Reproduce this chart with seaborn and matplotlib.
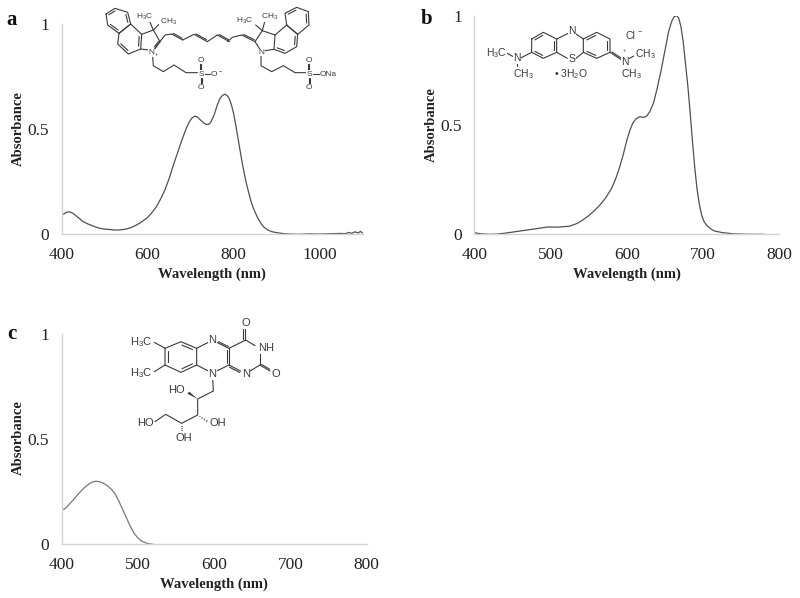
import numpy as np
import pandas as pd
import seaborn as sns
import matplotlib
matplotlib.use("Agg")
import matplotlib.pyplot as plt

W, H = 800, 598

# ======| Spectra |======

wave_a = [400, 405, 410, 414, 418, 422, 426, 430, 435, 440, 450, 460, 470, 480, 490, 500, 510, 520, 530, 540,
          550, 560, 570, 580, 590, 600, 610, 620, 630, 640, 650, 660, 670, 680, 690, 697, 703, 710, 716, 722,
          730, 736, 741, 746, 751, 756, 762, 768, 774, 780, 785, 790, 795, 800, 805, 810, 815, 820, 825, 830,
          835, 840, 845, 850, 855, 860, 865, 870, 880, 890, 900, 920, 950, 980, 1000, 1030, 1050, 1060, 1068,
          1075, 1082, 1090, 1095, 1100]
abs_a = [0.092, 0.097, 0.103, 0.106, 0.107, 0.104, 0.1, 0.094, 0.085, 0.077, 0.06, 0.05, 0.042, 0.034, 0.028,
         0.025, 0.023, 0.021, 0.02, 0.022, 0.025, 0.031, 0.04, 0.051, 0.065, 0.08, 0.103, 0.13, 0.167, 0.21,
         0.265, 0.33, 0.39, 0.45, 0.505, 0.535, 0.553, 0.562, 0.558, 0.545, 0.53, 0.523, 0.522, 0.53, 0.55,
         0.575, 0.615, 0.645, 0.66, 0.666, 0.66, 0.645, 0.615, 0.575, 0.52, 0.46, 0.4, 0.34, 0.288, 0.24, 0.2,
         0.16, 0.13, 0.105, 0.083, 0.065, 0.048, 0.035, 0.02, 0.012, 0.008, 0.002, 0.0, 0.002, 0.001, 0.003,
         0.004, 0.003, 0.009, 0.004, 0.012, 0.006, 0.014, 0.006]

wave_b = [400, 405, 410, 420, 430, 440, 450, 460, 470, 480, 495, 510, 525, 535, 542, 550, 558, 565, 572, 580,
          585, 590, 595, 600, 604, 608, 612, 617, 622, 626, 630, 635, 640, 645, 650, 655, 659, 662, 665, 668,
          671, 674, 677, 680, 683, 686, 689, 692, 695, 698, 701, 705, 710, 715, 725, 740, 760, 780]
abs_b = [0.008, 0.004, 0.002, 0.0, 0.001, 0.005, 0.01, 0.015, 0.02, 0.025, 0.033, 0.033, 0.037, 0.05, 0.065,
         0.085, 0.11, 0.135, 0.165, 0.21, 0.25, 0.3, 0.36, 0.43, 0.475, 0.51, 0.528, 0.538, 0.535, 0.54, 0.56,
         0.6, 0.67, 0.75, 0.84, 0.93, 0.975, 0.995, 1.0, 0.99, 0.95, 0.88, 0.78, 0.68, 0.56, 0.43, 0.31, 0.21,
         0.14, 0.09, 0.06, 0.04, 0.025, 0.015, 0.008, 0.002, 0.0, 0.0]

wave_c = [400, 403, 407, 411, 415, 420, 425, 430, 435, 440, 445, 450, 455, 460, 465, 470, 475, 480, 485, 490,
          495, 500, 505, 510, 515, 520]
abs_c = [0.165, 0.167, 0.178, 0.195, 0.21, 0.232, 0.252, 0.27, 0.285, 0.296, 0.3, 0.297, 0.29, 0.278, 0.262,
         0.24, 0.205, 0.165, 0.125, 0.085, 0.052, 0.03, 0.015, 0.007, 0.002, 0.0]
# faint flat part of trace c after the band
wave_c_tail = [520, 600, 700, 780]
abs_c_tail = [0.0, 0.0, 0.0, 0.0]

xticks_a = [400, 600, 800, 1000]
xticks_bc = [400, 500, 600, 700, 800]
yticks = [0, 0.5, 1]
ylabels = ["0", "0.5", "1"]

sns.set_theme(style="white")
plt.rcParams["font.family"] = ["Liberation Serif", "DejaVu Serif"]
plt.rcParams["mathtext.default"] = "regular"
plt.rcParams["mathtext.fontset"] = "custom"
plt.rcParams["mathtext.rm"] = "Liberation Sans"

fig = plt.figure(figsize=(W / 100, H / 100), dpi=100)


def panel(left, right, top, bottom, wave, vals, xmax, xticks, col):
    ax = fig.add_axes([left / W, 1 - bottom / H, (right - left) / W, (bottom - top) / H])
    df = pd.DataFrame({"wave": wave, "abs": vals})
    sns.lineplot(data=df, x="wave", y="abs", ax=ax, color=col, linewidth=0.9, errorbar=None)
    ax.set_xlim(400, xmax)
    ax.set_ylim(0, 1)
    ax.set_xticks(xticks)
    ax.set_yticks(yticks)
    ax.set_yticklabels(ylabels)
    ax.tick_params(axis="both", labelsize=12.5, colors="#222222", length=2, width=0.8, color="#d4d4d4")
    ax.tick_params(axis="x", pad=7)
    ax.tick_params(axis="y", pad=7)
    ax.set_xlabel("")
    ax.set_ylabel("")
    for s in ["top", "right"]:
        ax.spines[s].set_visible(False)
    for s in ["left", "bottom"]:
        ax.spines[s].set_color("#d4d4d4")
        ax.spines[s].set_linewidth(1.0)
    ax.patch.set_alpha(0)
    return ax


panel(61.7, 362.5, 24, 234.3, wave_a, abs_a, 1100, xticks_a, "#505050")
panel(474.3, 779.3, 15.7, 234.3, wave_b, abs_b, 800, xticks_bc, "#505050")
ax_c = panel(61.7, 366.7, 334, 544.3, wave_c, abs_c, 800, xticks_bc, "#777777")
sns.lineplot(x=wave_c_tail, y=abs_c_tail, ax=ax_c, color="#b0b0b0", linewidth=0.7, errorbar=None)
ax_c.set_xlabel("")
ax_c.set_ylabel("")

# overlay in picture pixels for labels and the molecule sketches
ov = fig.add_axes([0, 0, 1, 1], zorder=5)
ov.set_xlim(0, W)
ov.set_ylim(H, 0)
ov.axis("off")
ov.patch.set_alpha(0)

for x, y in [(212, 274), (627, 274), (214, 584)]:
    ov.text(x, y, "Wavelength (nm)", fontsize=10.5, fontweight="bold", ha="center", va="center", color="#222222")
for x, y in [(18, 129), (431, 125), (18, 438)]:
    ov.text(x, y, "Absorbance", fontsize=10.5, fontweight="bold", rotation=90, ha="center", va="center", color="#222222")
for x, y, t in [(12, 20, "a"), (427, 19, "b"), (12, 334, "c")]:
    ov.text(x, y, t, fontsize=15, fontweight="bold", ha="center", va="center", color="#111111")

MOL = "#3a3a3a"


def bond(ox, oy, *pts, lw=0.8):
    xs = [ox + p[0] / 3 for p in pts]
    ys = [oy + p[1] / 3 for p in pts]
    ov.plot(xs, ys, color=MOL, lw=lw, solid_capstyle="round")


def double(ox, oy, p, q, off=4):
    # second stroke beside the first
    p, q = np.array(p, float), np.array(q, float)
    n = np.array([q[1] - p[1], p[0] - q[0]])
    n = n / np.hypot(*n) * off
    bond(ox, oy, p, q)
    d = (q - p) * 0.1
    bond(ox, oy, p + n + d, q + n - d)


def ring(ox, oy, pts, inner=()):
    bond(ox, oy, *(list(pts) + [pts[0]]))
    c = np.mean(np.array(pts, float), axis=0)
    for i in inner:
        p = np.array(pts[i], float)
        q = np.array(pts[(i + 1) % len(pts)], float)
        p2 = c + (p - c) * 0.8
        q2 = c + (q - c) * 0.8
        d = (q2 - p2) * 0.08
        bond(ox, oy, p2 + d, q2 - d)


def wedge(ox, oy, p, q):
    xs = [ox + p[0] / 3 - 0.0, ox + q[0] / 3 - 1.0, ox + q[0] / 3 + 1.0]
    ys = [oy + p[1] / 3, oy + q[1] / 3 + 1.0, oy + q[1] / 3 - 1.0]
    ov.fill(xs, ys, color=MOL, lw=0)


def hashed(ox, oy, p, q):
    p, q = np.array(p, float), np.array(q, float)
    for t in [0.25, 0.5, 0.75, 1.0]:
        m = p + (q - p) * t
        n = np.array([q[1] - p[1], p[0] - q[0]])
        n = n / np.hypot(*n) * 3 * t
        bond(ox, oy, m - n, m + n, lw=0.6)


def label(ox, oy, x, y, t, size=6):
    ov.text(ox + x / 3, oy + y / 3, t, fontsize=size, family="Liberation Sans", ha="center", va="center",
            color=MOL, zorder=6, bbox=dict(fc="white", ec="none", pad=0.2))


# ---- panel a, left half
ox, oy = 100, 0
ring(ox, oy, [(18, 42), (45, 25), (83, 37), (92, 72), (57, 100), (23, 75)], inner=[0, 2, 4])
ring(ox, oy, [(57, 100), (92, 72), (125, 103), (122, 147), (85, 162), (53, 132)], inner=[2, 4])
bond(ox, oy, (125, 103), (160, 90), (180, 125), (158, 155))
bond(ox, oy, (145, 150), (122, 147))
bond(ox, oy, (160, 90), (148, 62))
bond(ox, oy, (160, 90), (180, 70))
double(ox, oy, (180, 125), (165, 145), off=-4)
bond(ox, oy, (180, 125), (195, 105), (215, 102))
double(ox, oy, (215, 102), (248, 120))
bond(ox, oy, (248, 120), (282, 103))
double(ox, oy, (282, 103), (322, 125))
bond(ox, oy, (322, 125), (352, 105))
double(ox, oy, (352, 105), (388, 125))
bond(ox, oy, (158, 172), (160, 197), (190, 215), (222, 195), (258, 218), (292, 218))
bond(ox, oy, (315, 222), (330, 222))
double(ox, oy, (302, 212), (302, 190), off=3)
double(ox, oy, (302, 232), (302, 252), off=3)
label(ox, oy, 135, 50, "H$_3$C")
label(ox, oy, 205, 66, "CH$_3$")
label(ox, oy, 155, 157, "N")
ov.text(ox + 170 / 3, oy + 165 / 3, "+", fontsize=4, family="Liberation Sans", ha="center", va="center", color=MOL)
label(ox, oy, 303, 222, "S")
label(ox, oy, 303, 180, "O")
label(ox, oy, 303, 263, "O")
label(ox, oy, 343, 222, "O")
ov.text(ox + 362 / 3, oy + 214 / 3, "\u2212", fontsize=4, family="Liberation Sans", ha="center", va="center", color=MOL)

# ---- panel a, right half
ox, oy = 225, 0
bond(ox, oy, (8, 125), (22, 112), (50, 105))
double(ox, oy, (50, 105), (90, 125))
ring(ox, oy, [(185, 75), (218, 103), (215, 140), (180, 160), (147, 148), (150, 105)], inner=[1, 3])
ring(ox, oy, [(185, 75), (180, 40), (215, 22), (250, 35), (252, 75), (218, 103)], inner=[1, 3])
bond(ox, oy, (150, 105), (112, 92), (90, 125), (105, 148))
bond(ox, oy, (120, 152), (147, 148))
bond(ox, oy, (112, 92), (92, 75))
bond(ox, oy, (112, 92), (120, 62))
bond(ox, oy, (108, 168), (108, 197), (140, 215), (175, 197), (210, 218), (242, 218))
bond(ox, oy, (264, 222), (284, 222))
double(ox, oy, (252, 212), (252, 190), off=3)
double(ox, oy, (252, 232), (252, 252), off=3)
label(ox, oy, 60, 62, "H$_3$C")
label(ox, oy, 135, 50, "CH$_3$")
label(ox, oy, 110, 157, "N")
label(ox, oy, 252, 222, "S")
label(ox, oy, 252, 180, "O")
label(ox, oy, 252, 263, "O")
label(ox, oy, 310, 222, "ONa")

# ---- panel b
ox, oy = 480, 15
ring(ox, oy, [(155, 72), (190, 52), (230, 72), (230, 112), (190, 130), (155, 112)], inner=[0, 2, 4])
ring(ox, oy, [(310, 72), (350, 52), (390, 72), (390, 112), (350, 130), (310, 112)], inner=[0, 2, 4])
bond(ox, oy, (230, 72), (265, 55))
bond(ox, oy, (285, 55), (310, 72))
bond(ox, oy, (230, 112), (262, 130))
bond(ox, oy, (288, 130), (310, 112))
bond(ox, oy, (155, 112), (120, 130))
bond(ox, oy, (100, 125), (78, 113))
bond(ox, oy, (110, 140), (110, 163))
double(ox, oy, (390, 112), (425, 135))
bond(ox, oy, (445, 132), (467, 120))
bond(ox, oy, (435, 148), (435, 165))
label(ox, oy, 275, 48, "N", 7.5)
label(ox, oy, 275, 133, "S", 7.5)
label(ox, oy, 110, 130, "N", 7.5)
label(ox, oy, 435, 140, "N", 7.5)
label(ox, oy, 50, 115, "H$_3$C", 7.5)
label(ox, oy, 130, 178, "CH$_3$", 7.5)
label(ox, oy, 495, 117, "CH$_3$", 7.5)
label(ox, oy, 455, 178, "CH$_3$", 7.5)
label(ox, oy, 450, 63, "Cl", 7.5)
ov.text(ox + 478 / 3, oy + 52 / 3, "\u2212", fontsize=5, family="Liberation Sans", ha="center", va="center", color=MOL)
ov.text(ox + 432 / 3, oy + 108 / 3, "+", fontsize=4, family="Liberation Sans", ha="center", va="center", color=MOL)
label(ox, oy, 272, 178, "\u2022 3H$_2$O", 7.5)

# ---- panel c
ox, oy = 125, 315
ring(ox, oy, [(120, 100), (168, 80), (215, 100), (215, 150), (168, 172), (120, 150)], inner=[1, 3, 5])
bond(ox, oy, (215, 100), (250, 82))
double(ox, oy, (275, 82), (312, 100))
bond(ox, oy, (215, 150), (250, 168))
bond(ox, oy, (275, 168), (312, 150))
double(ox, oy, (312, 100), (312, 150), off=-5)
bond(ox, oy, (312, 100), (362, 75), (390, 92))
bond(ox, oy, (405, 112), (405, 150))
double(ox, oy, (312, 150), (350, 170), off=-5)
bond(ox, oy, (375, 168), (405, 150))
double(ox, oy, (360, 75), (360, 38), off=5)
double(ox, oy, (405, 150), (435, 168), off=4)
bond(ox, oy, (120, 100), (88, 82))
bond(ox, oy, (120, 150), (88, 170))
bond(ox, oy, (263, 192), (265, 228), (218, 252), (218, 300), (170, 325), (122, 298), (90, 320))
wedge(ox, oy, (218, 252), (190, 233))
hashed(ox, oy, (218, 300), (245, 318))
hashed(ox, oy, (170, 325), (170, 352))
label(ox, oy, 262, 75, "N", 8)
label(ox, oy, 262, 178, "N", 8)
label(ox, oy, 362, 178, "N", 8)
label(ox, oy, 422, 100, "NH", 8)
label(ox, oy, 362, 25, "O", 8)
label(ox, oy, 453, 177, "O", 8)
label(ox, oy, 50, 80, "H$_3$C", 8)
label(ox, oy, 50, 175, "H$_3$C", 8)
label(ox, oy, 155, 225, "HO", 8)
label(ox, oy, 278, 325, "OH", 8)
label(ox, oy, 62, 325, "HO", 8)
label(ox, oy, 177, 368, "OH", 8)

fig.savefig("out.png", dpi=100, facecolor="white")
